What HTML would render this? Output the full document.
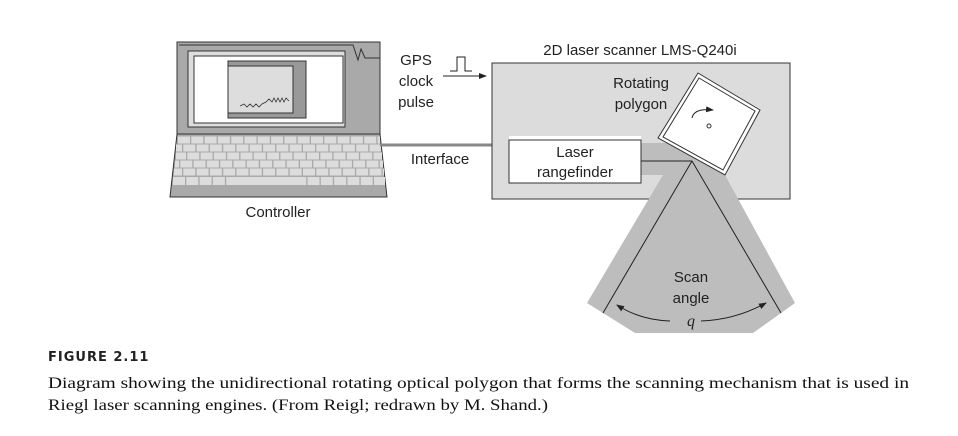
<!DOCTYPE html>
<html><head><meta charset="utf-8"><style>
html,body{margin:0;padding:0;background:#fff;}
svg{display:block;}
.s{font-family:"Liberation Sans",Arial,sans-serif;font-size:15px;fill:#222;}
.r{font-family:"Liberation Serif",serif;font-size:16px;fill:#111;}
</style></head><body>
<svg width="958" height="436" viewBox="0 0 958 436" xmlns="http://www.w3.org/2000/svg">
<defs><marker id="ah" markerWidth="8" markerHeight="6" refX="7" refY="3" orient="auto" markerUnits="userSpaceOnUse"><path d="M0,0 L8,3 L0,6 z" fill="#222"/></marker></defs>
<!-- laptop lid -->
<rect x="177" y="42" width="203" height="92" fill="#a9a9a9" stroke="#333" stroke-width="1"/>
<polyline points="179,45 353,45 358,60 361,49 365,58 380,58" fill="none" stroke="#333" stroke-width="1"/>
<rect x="188" y="51" width="157" height="76" fill="#ddd" stroke="#333"/>
<rect x="194" y="56" width="149" height="67" fill="#fff" stroke="#333"/>
<rect x="228" y="61" width="78" height="57" fill="#999" stroke="#333"/>
<rect x="228" y="66" width="65" height="47" fill="#ddd" stroke="#333"/>
<polyline points="240,106 244,104 247,107 250,104 253,107 256,104 259,107 262,104 266,102 269,99 272,102 274,98 276,102 278,98 280,102 282,98 284,102 286,98 289,101" fill="none" stroke="#333" stroke-width="0.8"/>
<!-- keyboard -->
<polygon points="177,134 380,134 387,197 170,197" fill="#a9a9a9" stroke="#333"/>
<line x1="178" y1="140" x2="380" y2="140" stroke="#ddd" stroke-width="7" stroke-dasharray="12 1.3"/>
<line x1="176" y1="148" x2="381" y2="148" stroke="#ddd" stroke-width="7" stroke-dasharray="12 1.3" stroke-dashoffset="6"/>
<line x1="176" y1="156" x2="382" y2="156" stroke="#ddd" stroke-width="7" stroke-dasharray="12 1.3" stroke-dashoffset="2"/>
<line x1="175" y1="164" x2="383" y2="164" stroke="#ddd" stroke-width="7" stroke-dasharray="12 1.3" stroke-dashoffset="8"/>
<line x1="174" y1="172" x2="384" y2="172" stroke="#ddd" stroke-width="7" stroke-dasharray="12 1.3" stroke-dashoffset="4"/>
<line x1="173" y1="181" x2="385" y2="181" stroke="#ddd" stroke-width="8" stroke-dasharray="12 1.3 12 1.3 12 1.3 12 1.3 80 1.3 12 1.3 12 1.3"/>
<text class="s" x="278" y="217" text-anchor="middle">Controller</text>
<!-- interface -->
<line x1="380" y1="145" x2="509" y2="145" stroke="#888" stroke-width="3"/>
<text class="s" x="440" y="164" text-anchor="middle">Interface</text>
<!-- GPS -->
<text class="s" x="416" y="65" text-anchor="middle">GPS</text>
<text class="s" x="416" y="86" text-anchor="middle">clock</text>
<text class="s" x="416" y="107" text-anchor="middle">pulse</text>
<polyline points="450,71 457,71 457,57 465,57 465,71 472,71" fill="none" stroke="#222" stroke-width="1"/>
<line x1="443" y1="76" x2="486" y2="76" stroke="#222" stroke-width="1" marker-end="url(#ah)"/>
<!-- scanner -->
<text class="s" x="640" y="55" text-anchor="middle">2D laser scanner LMS-Q240i</text>
<rect x="492" y="63" width="298" height="136" fill="#dcdcdc" stroke="#333"/>
<rect x="509" y="136" width="132" height="5" fill="#fff"/>
<!-- fan -->
<polygon points="641,143 692,143 725,175 795,303 753,333 635,333 587,303 663,175 641,175" fill="#bdbdbd"/>
<line x1="641" y1="161" x2="692" y2="161" stroke="#222" stroke-width="1"/>
<line x1="692" y1="161" x2="603" y2="313" stroke="#222" stroke-width="1"/>
<line x1="692" y1="161" x2="781" y2="313" stroke="#222" stroke-width="1"/>
<rect x="509" y="140" width="132" height="43" fill="#fff" stroke="#333"/>
<text class="s" x="575" y="157" text-anchor="middle">Laser</text>
<text class="s" x="575" y="177" text-anchor="middle">rangefinder</text>
<text class="s" x="641" y="88" text-anchor="middle">Rotating</text>
<text class="s" x="641" y="109" text-anchor="middle">polygon</text>
<polygon points="698,73 760,110 725,175 658,138" fill="#fff" stroke="#333"/>
<polygon points="699,78 755,111 723,170 663,137" fill="#fff" stroke="#333"/>
<path d="M692,118 Q694,108 713,110" fill="none" stroke="#222" marker-end="url(#ah)"/>
<circle cx="709" cy="126" r="2" fill="none" stroke="#333"/>
<text class="s" x="691" y="282" text-anchor="middle">Scan</text>
<text class="s" x="691" y="303" text-anchor="middle">angle</text>
<text x="691" y="326" text-anchor="middle" style="font-family:'Liberation Serif',serif;font-style:italic;font-size:16px;fill:#222">q</text>
<path d="M670,321 Q640,320 617,305" fill="none" stroke="#222" marker-end="url(#ah)"/>
<path d="M701,321 Q735,320 766,303" fill="none" stroke="#222" marker-end="url(#ah)"/>
<!-- caption -->
<text x="48" y="361" style="font-family:'DejaVu Sans',sans-serif;font-weight:bold;font-size:13px;fill:#222;letter-spacing:1px">FIGURE 2.11</text>
<text class="r" x="48" y="388" textLength="861" lengthAdjust="spacingAndGlyphs">Diagram showing the unidirectional rotating optical polygon that forms the scanning mechanism that is used in</text>
<text class="r" x="48" y="410" textLength="500" lengthAdjust="spacingAndGlyphs">Riegl laser scanning engines. (From Reigl; redrawn by M. Shand.)</text>
</svg>
</body></html>
